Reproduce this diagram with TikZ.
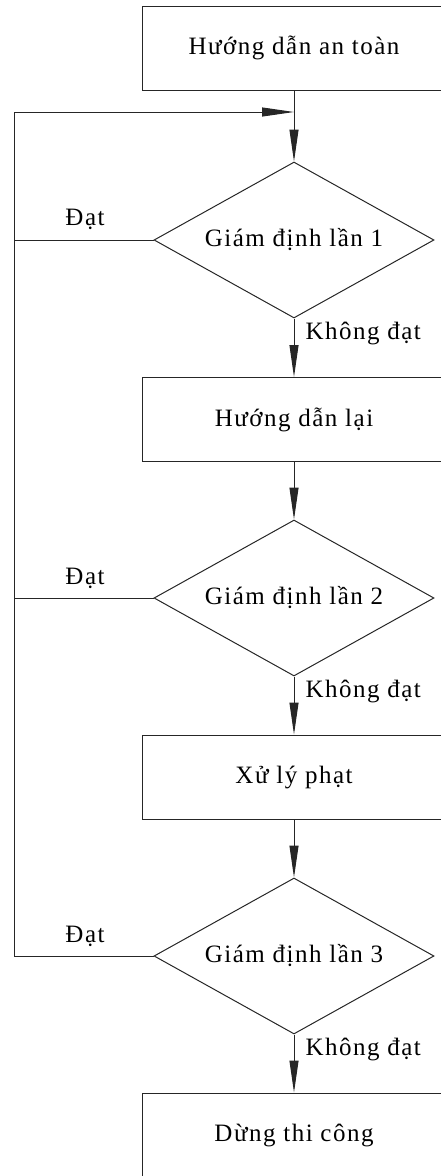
\documentclass[tikz,border=0pt]{standalone}
\usepackage{fontspec}
\setmainfont{Liberation Serif}[LetterSpace=6]
\usetikzlibrary{shapes.geometric,arrows.meta}
\begin{document}
\begin{tikzpicture}[x=1pt,y=-1pt,
  every node/.style={font=\fontsize{25}{29}\selectfont},
  flow/.style={line width=1pt,draw=black!85},
  procbox/.style={flow,rectangle,minimum width=304pt,minimum height=84pt,inner sep=0pt},
  decbox/.style={flow,diamond,minimum width=280pt,minimum height=156pt,inner sep=0pt,aspect=1.795},
  arr/.style={flow,-{Triangle[length=32pt,width=9pt]}},
  lbl/.style={inner sep=0pt}]
\useasboundingbox (0,0) rectangle (441,1176);
\clip (0,0) rectangle (441,1176);
\node[procbox] (b1) at (294,48) {Hướng dẫn an toàn};
\node[decbox] (d1) at (294,240) {Giám định lần 1};
\node[procbox] (b2) at (294,419.5) {Hướng dẫn lại};
\node[decbox] (d2) at (294,598) {Giám định lần 2};
\node[procbox] (b3) at (294,777) {Xử lý phạt};
\node[decbox] (d3) at (294,956) {Giám định lần 3};
\node[procbox] (b4) at (294,1135) {Dừng thi công};
\coordinate (j) at (294,112);
\coordinate (lt) at (14,112);
\draw[flow] (b1.south) -- (j);
\draw[arr] (j) -- (d1.north);
\draw[arr] (d1.south) -- node[lbl,right,xshift=11pt,pos=0.26] {Không đạt} (b2.north);
\draw[arr] (b2.south) -- (d2.north);
\draw[arr] (d2.south) -- node[lbl,right,xshift=11pt,pos=0.26] {Không đạt} (b3.north);
\draw[arr] (b3.south) -- (d3.north);
\draw[arr] (d3.south) -- node[lbl,right,xshift=11pt,pos=0.26] {Không đạt} (b4.north);
\draw[arr] (d3.west) -| (lt) -- (j);
\draw[flow] (d1.west) -- (d1.west -| lt);
\draw[flow] (d2.west) -- (d2.west -| lt);
\node[lbl] (l1) at (85,219) {Đạt};
\node[lbl] (l2) at (85,578) {Đạt};
\node[lbl] (l3) at (85,936) {Đạt};
\end{tikzpicture}
\end{document}
